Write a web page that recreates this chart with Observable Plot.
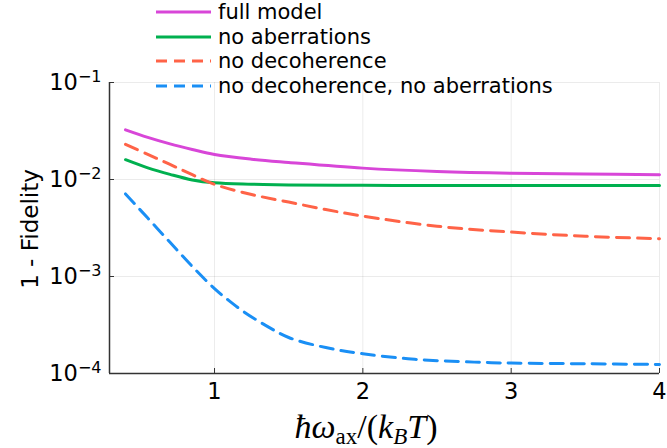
<!DOCTYPE html>
<html><head><meta charset="utf-8">
<script src="https://cdn.jsdelivr.net/npm/d3@7"></script>
<script src="https://cdn.jsdelivr.net/npm/@observablehq/plot@0.6"></script>
<style>
html,body{margin:0;padding:0;background:#fff;}
#wrap{position:relative;width:667px;height:448px;font-family:"DejaVu Sans",sans-serif;}
#legend{position:absolute;left:155px;top:0px;}
.row{display:flex;align-items:center;height:24.6px;font-size:21px;color:#000;white-space:nowrap;}
.row span{display:block;line-height:24.6px;height:24.6px;}
.row svg{margin-right:6px;flex:none}
</style></head><body><div id="wrap"></div>
<script>
// ---- data ----
const seriesNames = ["full model", "no aberrations", "no decoherence", "no decoherence, no aberrations"];
const seriesColors = ["#d846d8", "#00b04f", "#ff6347", "#1a8ff5"];
const seriesDash = [null, null, "13,8", "13,8"];

const xFull = [0.4, 0.55, 0.7, 0.85, 1.0, 1.25, 1.5, 2.0, 2.5, 3.0, 3.5, 4.0];
const yFull = [3.25e-2, 2.72e-2, 2.33e-2, 2.04e-2, 1.81e-2, 1.62e-2, 1.5e-2, 1.31e-2, 1.21e-2, 1.16e-2, 1.14e-2, 1.12e-2];

const xNoAberr = [0.4, 0.55, 0.7, 0.85, 1.0, 1.25, 1.5, 2.0, 2.5, 3.0, 3.5, 4.0];
const yNoAberr = [1.6e-2, 1.32e-2, 1.13e-2, 9.9e-3, 9.25e-3, 8.95e-3, 8.8e-3, 8.7e-3, 8.65e-3, 8.65e-3, 8.65e-3, 8.65e-3];

const xNoDecoh = [0.4, 0.55, 0.7, 0.85, 1.0, 1.25, 1.5, 1.75, 2.0, 2.5, 3.0, 3.5, 4.0];
const yNoDecoh = [2.3e-2, 1.82e-2, 1.43e-2, 1.12e-2, 8.9e-3, 7.0e-3, 5.85e-3, 4.9e-3, 4.2e-3, 3.3e-3, 2.87e-3, 2.6e-3, 2.45e-3];

const xNoBoth = [0.4, 0.55, 0.7, 0.85, 1.0, 1.1, 1.2, 1.35, 1.5, 1.75, 2.0, 2.35, 2.75, 3.0, 3.5, 4.0];
const yNoBoth = [7.1e-3, 4.0e-3, 2.25e-3, 1.27e-3, 7.5e-4, 5.6e-4, 4.3e-4, 3.1e-4, 2.35e-4, 1.85e-4, 1.6e-4, 1.4e-4, 1.31e-4, 1.28e-4, 1.26e-4, 1.24e-4];

const xTicks = [1, 2, 3, 4];
const yTicks = [1e-4, 1e-3, 1e-2, 1e-1];
const xDomain = [0.292, 4.0];
const yDomain = [1e-4, 1e-1];
const yLabel = "1 - Fidelity";

// ---- build tables ----
const allX = [xFull, xNoAberr, xNoDecoh, xNoBoth];
const allY = [yFull, yNoAberr, yNoDecoh, yNoBoth];
const tables = allX.map((xs, i) => xs.map((x, j) => ({x, y: allY[i][j]})));

const gridColor = "#000";
const lineMarks = tables.map((t, i) => Plot.line(t, {
  x: "x", y: "y", stroke: seriesColors[i], strokeWidth: 3,
  curve: "catmull-rom",
  ...(seriesDash[i] ? {strokeDasharray: seriesDash[i]} : {})
}));

const chart = Plot.plot({
  width: 667, height: 448,
  marginLeft: 109, marginRight: 8, marginTop: 82, marginBottom: 75,
  style: {fontFamily: "DejaVu Sans, sans-serif", fontSize: "22.5px", background: "white", color: "#000"},
  x: {domain: xDomain},
  y: {type: "log", domain: yDomain},
  marks: [
    Plot.gridX(xTicks, {stroke: gridColor, strokeOpacity: 0.08, strokeWidth: 1}),
    Plot.gridY(yTicks, {stroke: gridColor, strokeOpacity: 0.08, strokeWidth: 1}),
    ...lineMarks,
    Plot.ruleX([xDomain[0]], {stroke: "#333", strokeWidth: 1.5}),
    Plot.ruleY([yDomain[0]], {stroke: "#333", strokeWidth: 1.5}),
    Plot.axisX({ticks: xTicks, tickSize: -5, tickPadding: 15, label: null, tickFormat: d => String(d), stroke: "#333"}),
    Plot.axisY({ticks: yTicks, tickSize: -5, tickPadding: 13, label: null, tickFormat: d => String(Math.round(Math.log10(d))), stroke: "#333"})
  ]
});

// superscript tick labels 10^k
const svgNS = "http://www.w3.org/2000/svg";
chart.querySelectorAll('g[aria-label="y-axis tick label"] text').forEach(t => {
  const k = t.textContent;
  t.textContent = "";
  const a = document.createElementNS(svgNS, "tspan"); a.textContent = "10";
  const b = document.createElementNS(svgNS, "tspan"); b.textContent = k.replace("-", "\u2212");
  b.setAttribute("dy", "-0.5em"); b.setAttribute("font-size", "16px");
  t.appendChild(a); t.appendChild(b);
});

// y label
const yl = document.createElementNS(svgNS, "text");
yl.setAttribute("transform", "translate(30,229) rotate(-90)");
yl.setAttribute("text-anchor", "middle");
yl.setAttribute("dominant-baseline", "central");
yl.setAttribute("font-size", "23px");
yl.textContent = yLabel;
chart.appendChild(yl);

// x label  ħω_ax/(k_B T)
const xl = document.createElementNS(svgNS, "text");
xl.setAttribute("x", 366); xl.setAttribute("y", 438);
xl.setAttribute("text-anchor", "middle");
xl.setAttribute("font-family", "Liberation Serif, serif");
xl.setAttribute("font-size", "34px");
const parts = [
  ["ħω", {"font-style": "italic"}],
  ["ax", {"font-size": "23px", "dy": "6"}],
  ["/(", {"dy": "-6"}],
  ["k", {"font-style": "italic"}],
  ["B", {"font-style": "italic", "font-size": "23px", "dy": "6"}],
  ["T", {"font-style": "italic", "dy": "-6"}],
  [")", {}]
];
parts.forEach(([s, attrs]) => {
  const ts = document.createElementNS(svgNS, "tspan");
  ts.textContent = s;
  for (const [k, v] of Object.entries(attrs)) ts.setAttribute(k, v);
  xl.appendChild(ts);
});
chart.appendChild(xl);

const wrap = document.getElementById("wrap");
wrap.appendChild(chart);

// legend
const legend = document.createElement("div");
legend.id = "legend";
seriesNames.forEach((name, i) => {
  const row = document.createElement("div");
  row.className = "row";
  const dash = seriesDash[i] ? `stroke-dasharray="11,7"` : "";
  row.innerHTML = `<svg width="57" height="10"><line x1="1" y1="5" x2="56" y2="5" stroke="${seriesColors[i]}" stroke-width="3" ${dash}/></svg><span>${name}</span>`;
  legend.appendChild(row);
});
wrap.appendChild(legend);
</script></body></html>
